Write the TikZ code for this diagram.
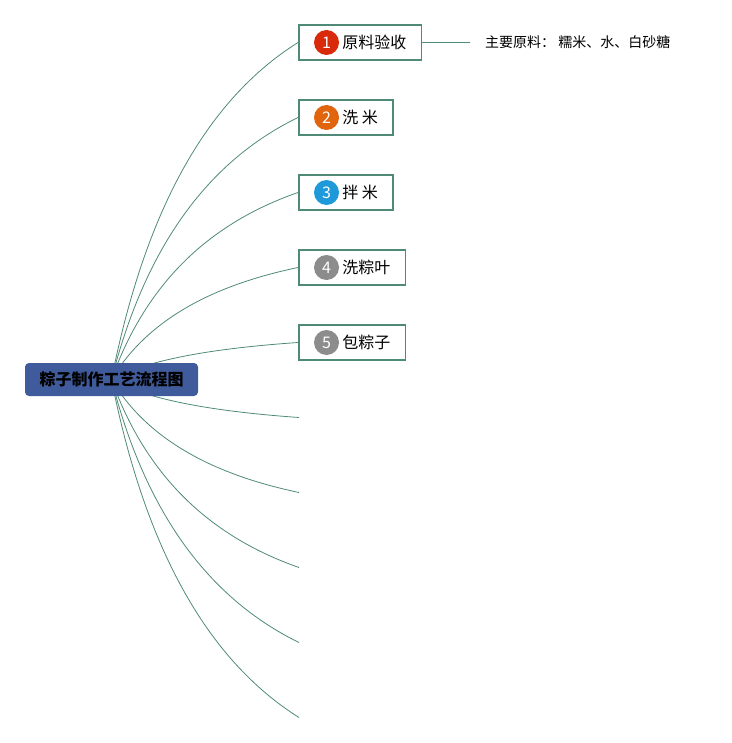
\documentclass[tikz,border=0pt]{standalone}
\usepackage{fontspec}
\setmainfont{Noto Sans CJK SC}
\usetikzlibrary{positioning,fit,backgrounds}

\definecolor{gruen}{HTML}{4F8A78}
\definecolor{wurzelblau}{HTML}{3F5B9C}
\definecolor{nrrot}{HTML}{D92B0C}
\definecolor{nrorange}{HTML}{E1640F}
\definecolor{nrblau}{HTML}{1E9ADB}
\definecolor{nrgrau}{HTML}{8C8C8C}

\tikzset{
    wurzel/.style={fill=wurzelblau, rounded corners=4pt, minimum width=173pt, minimum height=33pt, inner sep=0pt, font=\bfseries\fontsize{16}{16}\selectfont},
    schritt/.style={draw=gruen, line width=1.6pt, inner xsep=15pt, inner ysep=0pt, minimum height=35pt},
    nummer/.style={circle, fill=#1, text=white, minimum size=25pt, inner sep=0pt, font=\fontsize{16}{16}\selectfont},
    beschriftung/.style={inner sep=0pt, font=\fontsize{16}{16}\selectfont},
    ast/.style={draw=gruen, line width=0.8pt}
}

\begin{document}
\begin{tikzpicture}[x=1pt,y=-1pt]
        \useasboundingbox (0,0) rectangle (731,743);
        \node [wurzel] (wurzel) at (111.5,379.5) {粽子制作工艺流程图};

        % Schritte
        \foreach \i/\y/\farbe/\wort in {1/42.5/nrrot/原料验收, 2/117.5/nrorange/洗 米, 3/192.5/nrblau/拌 米, 4/267.5/nrgrau/洗粽叶, 5/342.5/nrgrau/包粽子}
        {
            \node [nummer=\farbe] (nr\i) at (326.5,\y) {\i};
            \node [beschriftung, right=3pt of nr\i] (wort\i) {\wort};
            \node [schritt, fit=(nr\i)(wort\i)] (schritt\i) {};
        }
        % leere Aeste
        \foreach \i/\y in {6/417.5, 7/492.5, 8/567.5, 9/642.5, 10/717.5}
            \coordinate (ende\i) at (299,\y);

        % Nebenthema
        \coordinate (nebenende) at (470,42.5);
        \draw [ast] (schritt1.east) -- (nebenende);
        \node [beschriftung, font=\fontsize{14}{14}\selectfont, right=15pt of nebenende] (rohstoffe) {主要原料： 糯米、水、白砂糖};

        % Aeste
        \begin{scope}[on background layer]
            \foreach \ziel/\y in {schritt1.west/42.5, schritt2.west/117.5, schritt3.west/192.5, schritt4.west/267.5, schritt5.west/342.5, ende6/417.5, ende7/492.5, ende8/567.5, ende9/642.5, ende10/717.5}
            {
                \pgfmathsetmacro{\dy}{\y-379.5}
                \pgfmathsetmacro{\ceins}{-0.493*\dy}
                \pgfmathsetmacro{\czwei}{0.173*\dy}
                \draw [ast] (wurzel.center) .. controls ([xshift=33pt, yshift=\ceins pt]wurzel.center) and ([xshift=-93pt, yshift=\czwei pt]\ziel) .. (\ziel);
            }
        \end{scope}
\end{tikzpicture}
\end{document}
